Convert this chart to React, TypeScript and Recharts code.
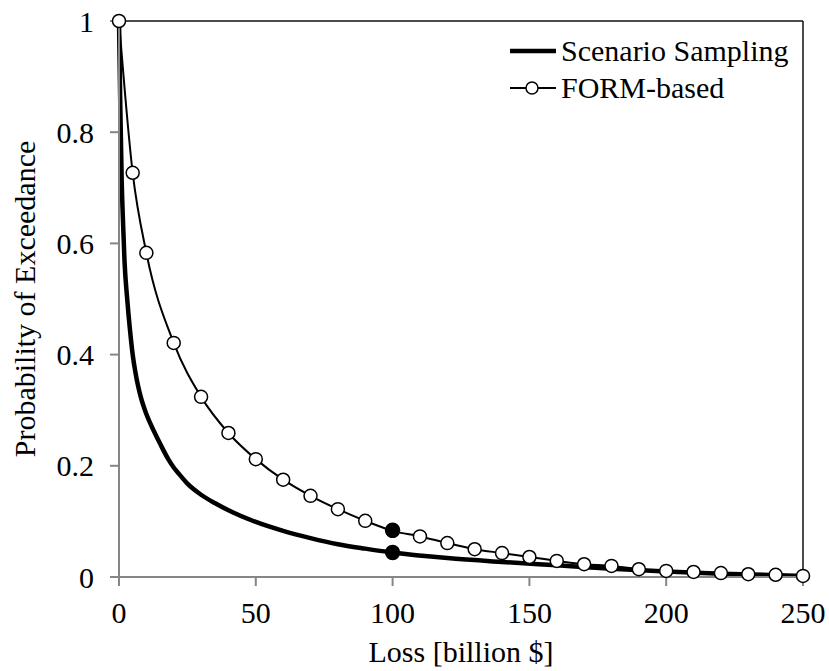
import React from "react";
import {
  ComposedChart,
  Line,
  XAxis,
  YAxis,
  Legend,
  ReferenceLine,
} from "recharts";

// loss in billion $, probability of exceedance
const scenarioLoss = [0, 0.5, 1, 1.5, 2, 3, 4, 5, 6, 7, 8, 10, 13, 15, 18, 20, 22, 25, 30, 35, 40, 50, 60, 70, 80, 90, 100, 120, 140, 160, 180, 200, 220, 250];
const scenarioProb = [1, 0.84, 0.71, 0.635, 0.57, 0.5, 0.445, 0.4, 0.368, 0.343, 0.323, 0.293, 0.26, 0.24, 0.212, 0.197, 0.185, 0.168, 0.148, 0.133, 0.12, 0.099, 0.083, 0.07, 0.059, 0.051, 0.044, 0.034, 0.027, 0.021, 0.015, 0.01, 0.006, 0.002];

const formLoss = [0, 5, 10, 20, 30, 40, 50, 60, 70, 80, 90, 100, 110, 120, 130, 140, 150, 160, 170, 180, 190, 200, 210, 220, 230, 240, 250];
const formProb = [1, 0.727, 0.583, 0.421, 0.324, 0.259, 0.212, 0.175, 0.146, 0.122, 0.101, 0.083, 0.073, 0.061, 0.05, 0.043, 0.036, 0.029, 0.023, 0.02, 0.014, 0.011, 0.009, 0.007, 0.005, 0.004, 0.002];

const markLoss = [100, 100];
const markProb = [0.084, 0.044];

const xTicks = [0, 50, 100, 150, 200, 250];
const yTicks = [0, 0.2, 0.4, 0.6, 0.8, 1];

const scenarioData = scenarioLoss.map((x, i) => ({ x, y: scenarioProb[i] }));
const formData = formLoss.map((x, i) => ({ x, y: formProb[i] }));
const markData = markLoss.map((x, i) => ({ x, y: markProb[i] }));

const font = "Liberation Serif";
const axisGray = "#868686";
const fontSize = 30;

function LegendBox() {
  const items = [
    { name: "Scenario Sampling", width: 4.5, dot: false },
    { name: "FORM-based", width: 2, dot: true },
  ];
  return (
    <div style={{ fontFamily: font, fontSize, color: "#000", lineHeight: "37px" }}>
      {items.map((it) => (
        <div key={it.name} style={{ display: "flex", alignItems: "center" }}>
          <svg width={48} height={20} style={{ marginRight: 3 }}>
            <line x1={0} y1={10} x2={46} y2={10} stroke="#000" strokeWidth={it.width} />
            {it.dot && <circle cx={22} cy={10} r={6} fill="#fff" stroke="#000" strokeWidth={1.5} />}
          </svg>
          <span>{it.name}</span>
        </div>
      ))}
    </div>
  );
}

export default function App() {
  return (
    <div style={{ position: "absolute", left: 0, top: 0, background: "#fff", fontFamily: font }}>
      <ComposedChart
        width={829}
        height={671}
        margin={{ top: 21, right: 26, bottom: 0, left: 0 }}
        style={{ fontFamily: font }}
      >
        <XAxis
          type="number"
          dataKey="x"
          domain={[0, 250]}
          ticks={xTicks}
          height={94}
          stroke={axisGray}
          strokeWidth={2}
          tickSize={9}
          tickMargin={16}
          tick={{ fill: "#000", fontSize, fontFamily: font }}
          label={{
            value: "Loss [billion $]",
            position: "insideBottom",
            offset: 9,
            style: { fill: "#000", fontSize, fontFamily: font },
          }}
        />
        <YAxis
          type="number"
          dataKey="y"
          domain={[0, 1]}
          ticks={yTicks}
          width={119}
          stroke={axisGray}
          strokeWidth={2}
          tickSize={9}
          tickMargin={16}
          tick={{ fill: "#000", fontSize, fontFamily: font }}
          label={{
            value: "Probability of Exceedance",
            angle: -90,
            position: "insideLeft",
            offset: 24,
            style: { fill: "#000", fontSize, fontFamily: font, textAnchor: "middle" },
          }}
        />
        <ReferenceLine y={1} stroke="#111" strokeWidth={1.5} />
        <ReferenceLine x={250} stroke="#111" strokeWidth={1.5} />
        <Line
          data={formData}
          dataKey="y"
          name="FORM-based"
          type="monotone"
          stroke="#000"
          strokeWidth={2}
          dot={{ r: 6.5, stroke: "#000", strokeWidth: 1.5, fill: "#fff" }}
          isAnimationActive={false}
        />
        <Line
          data={scenarioData}
          dataKey="y"
          name="Scenario Sampling"
          type="monotone"
          stroke="#000"
          strokeWidth={4.5}
          dot={false}
          isAnimationActive={false}
        />
        {/* highlighted points at 100 billion */}
        <Line
          data={markData}
          dataKey="y"
          stroke="none"
          legendType="none"
          dot={{ r: 7.7, fill: "#000", stroke: "none" }}
          isAnimationActive={false}
        />
        <Legend
          layout="vertical"
          align="center"
          verticalAlign="middle"
          wrapperStyle={{ left: 510, top: 32, width: "auto" }}
          content={() => <LegendBox />}
        />
      </ComposedChart>
    </div>
  );
}
